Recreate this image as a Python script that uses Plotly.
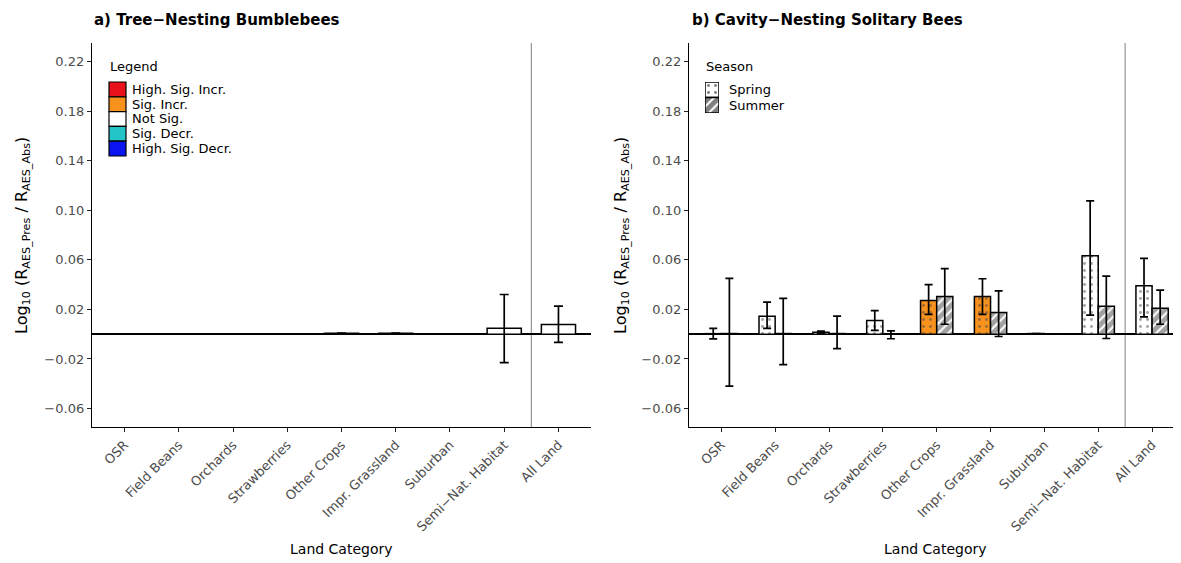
import plotly.graph_objects as go

# Page is shown with the browser's default 8px body margin; figure sized to fit the window.
PAGE_W, PAGE_H = 1181, 563
M = 8
W, H = PAGE_W - M, PAGE_H - M


def px(x):
    return (x - M) / W


def py(y):
    return 1 - (y - M) / H


categories = ["OSR", "Field Beans", "Orchards", "Strawberries", "Other Crops",
              "Impr. Grassland", "Suburban", "Semi\u2212Nat. Habitat", "All Land"]

# Panel a) Tree-nesting bumblebees (single season)
tree_val = [None, None, None, None, 0.0008, 0.0008, None, 0.0048, 0.0078]
tree_hi = [None, None, None, None, 0.0008, 0.0008, None, 0.0320, 0.0226]
tree_lo = [None, None, None, None, 0.0008, 0.0008, None, -0.0229, -0.0067]
tree_sig = ["Not Sig."] * 9

# Panel b) Cavity-nesting solitary bees
spring_val = [0.0004, 0.0145, 0.0015, 0.0111, 0.0272, 0.0304, 0.0005, 0.0632, 0.0390]
spring_hi = [0.0046, 0.0258, 0.0025, 0.0190, 0.0399, 0.0447, 0.0005, 0.1076, 0.0611]
spring_lo = [-0.0038, 0.0046, 0.0005, 0.0030, 0.0159, 0.0159, 0.0005, 0.0153, 0.0140]
spring_sig = ["Not Sig.", "Not Sig.", "Not Sig.", "Not Sig.", "Sig. Incr.",
              "Sig. Incr.", "Not Sig.", "Not Sig.", "Not Sig."]

summer_val = [0.0005, 0.0005, 0.0005, 0.0003, 0.0304, 0.0175, 0.0003, 0.0226, 0.0210]
summer_hi = [0.0450, 0.0288, 0.0145, 0.0027, 0.0528, 0.0350, 0.0003, 0.0468, 0.0355]
summer_lo = [-0.0420, -0.0245, -0.0116, -0.0037, 0.0080, -0.0019, 0.0003, -0.0035, 0.0080]
summer_sig = ["Not Sig."] * 9

seasons = ["Spring", "Summer"]

sig_levels = ["High. Sig. Incr.", "Sig. Incr.", "Not Sig.", "Sig. Decr.", "High. Sig. Decr."]
sig_colors = ["#E8101A", "#F7921E", "#FFFFFF", "#22C4C8", "#0A14F0"]
color_of = dict(zip(sig_levels, sig_colors))

ytick_vals = [-0.06, -0.02, 0.02, 0.06, 0.10, 0.14, 0.18, 0.22]
ytick_text = ["\u22120.06", "\u22120.02", "0.02", "0.06", "0.10", "0.14", "0.18", "0.22"]

FONT = "DejaVu Sans, Liberation Sans, sans-serif"
TICK_GREY = "#4D4D4D"

SPRING_PAT = dict(shape=".", fgcolor="black", size=7, solidity=0.14, fillmode="overlay")
SUMMER_PAT = dict(shape="/", fgcolor="black", size=7, solidity=0.72, fillmode="overlay")


def err(val, hi, lo):
    up = [None if v is None else h - v for v, h in zip(val, hi)]
    dn = [None if v is None else v - l for v, l in zip(val, lo)]
    return up, dn


fig = go.Figure()

# Panel a bars
up, dn = err(tree_val, tree_hi, tree_lo)
fig.add_trace(go.Bar(
    x=categories, y=tree_val, width=0.63, offset=-0.315,
    marker=dict(color=[color_of[s] for s in tree_sig], line=dict(color="black", width=1.5)),
    error_y=dict(type="data", array=up, arrayminus=dn, color="black", thickness=1.7, width=4.5),
    showlegend=False, xaxis="x", yaxis="y"))

# Panel b bars
up, dn = err(spring_val, spring_hi, spring_lo)
fig.add_trace(go.Bar(
    x=categories, y=spring_val, width=0.3, offset=-0.3, name="Spring",
    marker=dict(color=[color_of[s] for s in spring_sig], line=dict(color="black", width=1.5),
                pattern=SPRING_PAT),
    error_y=dict(type="data", array=up, arrayminus=dn, color="black", thickness=1.7, width=4),
    showlegend=False, xaxis="x2", yaxis="y2"))

up, dn = err(summer_val, summer_hi, summer_lo)
fig.add_trace(go.Bar(
    x=categories, y=summer_val, width=0.3, offset=0.0, name="Summer",
    marker=dict(color=[color_of[s] for s in summer_sig], line=dict(color="black", width=1.5),
                pattern=SUMMER_PAT),
    error_y=dict(type="data", array=up, arrayminus=dn, color="black", thickness=1.7, width=4),
    showlegend=False, xaxis="x2", yaxis="y2"))

# Season legend swatches (tiny hidden subplot so patterns can be shown)
for s, pat in zip(seasons, (SPRING_PAT, SUMMER_PAT)):
    fig.add_trace(go.Bar(
        y=[s], x=[1], orientation="h", width=1.0,
        marker=dict(color="white", line=dict(color="black", width=1.5), pattern=pat),
        showlegend=False, hoverinfo="skip", xaxis="x3", yaxis="y3"))

ydom = [py(427), py(43)]
yrange = [-0.0749, 0.2349]

xcommon = dict(type="category", categoryorder="array", categoryarray=categories,
               showline=True, linecolor="black", linewidth=1.4, ticks="outside",
               ticklen=4, tickcolor="#222222", tickwidth=1.1, tickangle=-45,
               tickfont=dict(family=FONT, size=13, color=TICK_GREY),
               showgrid=False, zeroline=False, fixedrange=True)
ycommon = dict(range=yrange, domain=ydom, tickvals=ytick_vals, ticktext=ytick_text,
               showline=True, linecolor="black", linewidth=1.4, ticks="outside",
               ticklen=4, tickcolor="#222222", tickwidth=1.1,
               tickfont=dict(family=FONT, size=13, color=TICK_GREY),
               showgrid=False, zeroline=True, zerolinecolor="black", zerolinewidth=1.7,
               fixedrange=True)

fig.update_layout(
    width=W, height=H, margin=dict(l=0, r=0, t=0, b=0),
    paper_bgcolor="white", plot_bgcolor="white",
    font=dict(family=FONT, color="black"),
    barmode="overlay", showlegend=False,
    xaxis=dict(xcommon, domain=[px(92), px(591)], range=[-0.6, 8.6], anchor="y"),
    yaxis=dict(ycommon, anchor="x"),
    xaxis2=dict(xcommon, domain=[px(689), 1.0], range=[-0.6, 8.537], anchor="y2"),
    yaxis2=dict(ycommon, anchor="x2"),
    xaxis3=dict(domain=[px(705), px(719)], range=[0, 1], visible=False, anchor="y3",
                fixedrange=True),
    yaxis3=dict(domain=[py(113), py(82)], type="category", categoryorder="array",
                categoryarray=seasons, range=[1.5, -0.5], visible=False, anchor="x3",
                fixedrange=True),
)

shapes = []
# Vertical separators before "All Land"
for xr, yr in (("x", "y domain"), ("x2", "y2 domain")):
    shapes.append(dict(type="line", xref=xr, yref=yr, x0=7.5, x1=7.5, y0=0, y1=1,
                       line=dict(color="#959595", width=1.2), layer="below"))

ytitle = "Log<sub>10</sub> (R<sub>AES_Pres</sub> / R<sub>AES_Abs</sub>)"
ann = [
    dict(text="<b>a) Tree\u2212Nesting Bumblebees</b>", x=px(92), y=py(20),
         xanchor="left", yanchor="middle", font=dict(size=15)),
    dict(text="<b>b) Cavity\u2212Nesting Solitary Bees</b>", x=px(690), y=py(20),
         xanchor="left", yanchor="middle", font=dict(size=15)),
    dict(text="Land Category", x=px(341), y=py(549), xanchor="center",
         yanchor="middle", font=dict(size=14)),
    dict(text="Land Category", x=px(935), y=py(549), xanchor="center",
         yanchor="middle", font=dict(size=14)),
    dict(text=ytitle, x=px(22), y=py(236), textangle=-90, xanchor="center",
         yanchor="middle", font=dict(size=16)),
    dict(text=ytitle, x=px(621), y=py(236), textangle=-90, xanchor="center",
         yanchor="middle", font=dict(size=16)),
    dict(text="Legend", x=px(108), y=py(66), xanchor="left", yanchor="middle",
         font=dict(size=13)),
    dict(text="Season", x=px(704), y=py(66), xanchor="left", yanchor="middle",
         font=dict(size=13)),
]

# Significance legend (panel a): swatches + labels
ROW = 14.8
for i, (lev, col) in enumerate(zip(sig_levels, sig_colors)):
    y0 = 82 + i * ROW
    shapes.append(dict(type="rect", xref="paper", yref="paper",
                       x0=px(109), x1=px(126), y0=py(y0 + ROW), y1=py(y0),
                       fillcolor=col, line=dict(color="black", width=1.2)))
    ann.append(dict(text=lev, x=px(130), y=py(y0 + ROW / 2), xanchor="left",
                    yanchor="middle", font=dict(size=13)))

# Season labels
for i, s in enumerate(seasons):
    ann.append(dict(text=s, x=px(727), y=py(82 + 15.5 * i + 7.75), xanchor="left",
                    yanchor="middle", font=dict(size=13)))

for a in ann:
    a.update(xref="paper", yref="paper", showarrow=False)
    a["font"] = dict(family=FONT, color="black", **a["font"])
fig.update_layout(annotations=ann, shapes=shapes)

fig.write_html("out.html")
